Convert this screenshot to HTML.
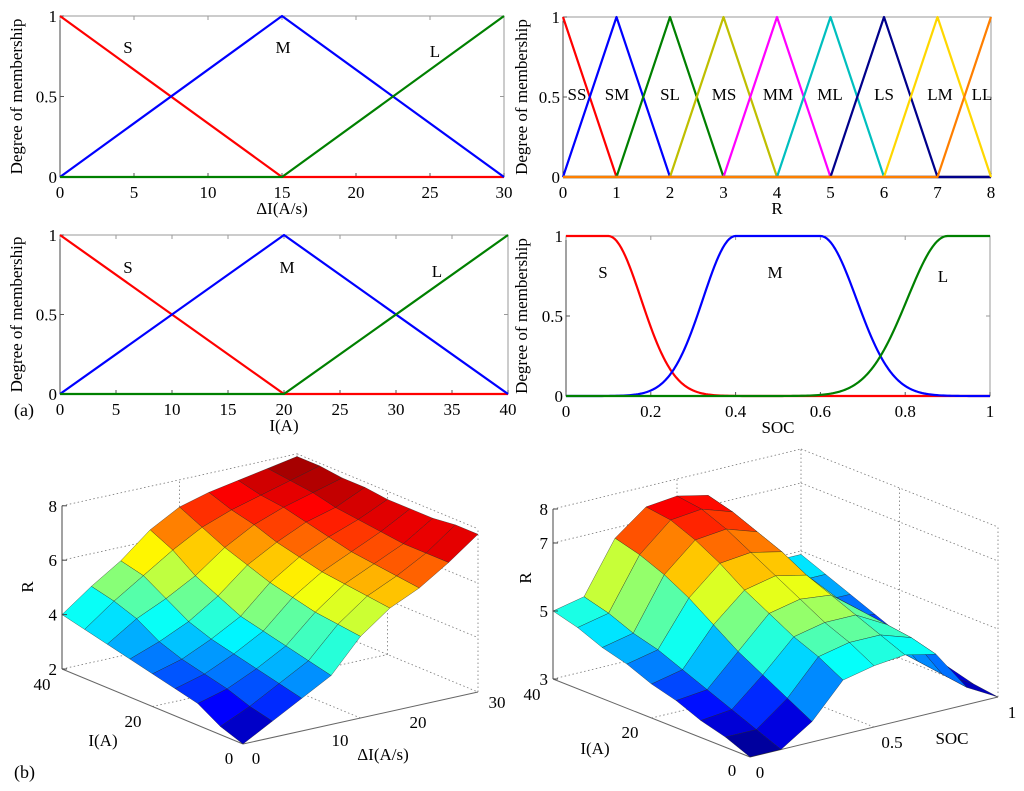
<!DOCTYPE html>
<html><head><meta charset="utf-8">
<style>
html,body{margin:0;padding:0;background:#fff;}
svg{display:block;font-family:"Liberation Serif",serif;}
</style></head>
<body>
<svg id="fig" width="1024" height="791" viewBox="0 0 1024 791" xmlns="http://www.w3.org/2000/svg">
<text x="14" y="416" font-size="18">(a)</text>
<text x="14" y="778" font-size="18">(b)</text>
</svg>
<script>
// ---------- data ----------
const dITicks=[0,5,10,15,20,25,30];
const dICenters=[0,15,30]; const dINames=["S","M","L"];
const rTicks=[0,1,2,3,4,5,6,7,8];
const rCenters=[0,1,2,3,4,5,6,7,8];
const rNames=["SS","SM","SL","MS","MM","ML","LS","LM","LL"];
const iTicks=[0,5,10,15,20,25,30,35,40];
const iCenters=[0,20,40]; const iNames=["S","M","L"];
const socTicks=[0,0.2,0.4,0.6,0.8,1];
// [flat-left, flat-right, sigma-left, sigma-right]
const socS=[0,0.1,0.08,0.077];
const socM=[0.4,0.6,0.077,0.085];
const socL=[0.9,1,0.095,0.08];
const yTicks=[0,0.5,1];
const surf1I=[0,5,10,15,20,25,30,35,40];
const surf1D=[0,3.75,7.5,11.25,15,18.75,22.5,26.25,30];
const surf1R=[
[2.0,2.6,3.2,3.8,5.0,5.8,6.3,7.0,7.8],
[2.3,2.8,3.4,4.0,5.1,5.9,6.4,7.0,7.8],
[2.8,3.1,3.6,4.2,5.2,6.0,6.5,7.0,7.7],
[3.0,3.3,3.8,4.4,5.4,6.1,6.6,7.1,7.7],
[3.2,3.5,4.0,4.6,5.6,6.3,6.8,7.2,7.7],
[3.4,3.8,4.3,5.0,5.9,6.5,7.0,7.3,7.8],
[3.6,4.3,4.8,5.4,6.2,6.8,7.2,7.5,7.8],
[3.8,4.6,5.3,6.0,6.6,7.0,7.3,7.6,7.9],
[4.0,4.8,5.5,6.4,7.0,7.3,7.5,7.7,7.9]];
const surf2I=[0,5,10,15,20,25,30,35,40];
const surf2S=[0,0.125,0.25,0.375,0.5,0.625,0.75,0.875,1];
const surf2R=[
[3.0,3.0,3.6,4.6,4.8,4.9,4.7,3.5,3.0],
[3.3,3.3,4.0,5.0,5.2,5.2,4.9,3.6,3.1],
[3.5,3.6,4.4,5.3,5.5,5.5,5.0,3.7,3.3],
[3.8,3.9,4.8,5.7,5.9,5.8,5.1,3.8,3.5],
[4.0,4.2,5.3,6.1,6.3,6.1,5.2,3.9,3.7],
[4.3,4.5,5.8,6.6,6.7,6.5,5.3,4.1,4.0],
[4.5,4.7,6.2,7.0,7.1,6.8,5.4,4.3,4.3],
[4.8,5.0,6.5,7.3,7.4,7.1,5.6,4.6,4.6],
[5.0,5.2,6.7,7.4,7.5,7.3,5.7,4.9,4.9]];
const z1Ticks=[2,4,6,8]; const z2Ticks=[3,5,7,8];

// ---------- helpers ----------
const svg=document.getElementById('fig');
const NS="http://www.w3.org/2000/svg";
function mk(tag,at,parent){const e=document.createElementNS(NS,tag);for(const k in at)e.setAttribute(k,at[k]);(parent||svg).appendChild(e);return e;}
function txt(x,y,s,size,anchor,parent,extra){const t=mk('text',Object.assign({x:x,y:y,'font-size':size,'text-anchor':anchor||'middle'},extra||{}),parent);t.textContent=s;return t;}

function axes2d(name,x0,x1,y0,y1,xmin,xmax,xt,xlabel,ylabX){
  const g=mk('g',{});
  
  
  const sx=v=>x0+(v-xmin)/(xmax-xmin)*(x1-x0);
  const sy=v=>y0-(v)*(y0-y1);
  const box=mk('rect',{x:x0,y:y1,width:x1-x0,height:y0-y1,fill:'none',stroke:'#9a9a9a','stroke-width':1},g);
  
  
  mk('line',{x1:x0,y1:y1,x2:x0,y2:y0,stroke:'#444'},g);
  mk('line',{x1:x0,y1:y0,x2:x1,y2:y0,stroke:'#444'},g);
  xt.forEach(v=>{const X=sx(v);
    mk('line',{x1:X,y1:y0,x2:X,y2:y0-4,stroke:'#555'},g);
    mk('line',{x1:X,y1:y1,x2:X,y2:y1+4,stroke:'#999'},g);
    const t=txt(X,y0+21,String(v),17,'middle',g);
    
    });
  yTicks.forEach(v=>{const Y=sy(v);
    mk('line',{x1:x0,y1:Y,x2:x0+4,y2:Y,stroke:'#555'},g);
    mk('line',{x1:x1,y1:Y,x2:x1-4,y2:Y,stroke:'#999'},g);
    const t=txt(x0-3,Y+6,String(v),17,'end',g);
    
    });
  const xl=txt((x0+x1)/2,y0+37,xlabel,17,'middle',g);
  
  
  const yl=txt(0,0,'Degree of membership',17,'middle',g,{transform:`translate(${ylabX},${(y0+y1)/2}) rotate(-90)`});
  
  
  return {g,sx,sy};
}
function poly(ax,xs,ys,color,name){
  const p=mk('polyline',{points:xs.map((x,i)=>ax.sx(x)+','+ax.sy(ys[i])).join(' '),fill:'none',stroke:color,'stroke-width':2.2,'stroke-linejoin':'round'},ax.g);
  
  
}
function tri(ax,centers,i,xmin,xmax,color,name){
  const c=centers[i],l=i>0?centers[i-1]:c,r=i<centers.length-1?centers[i+1]:c;
  const xs=[],ys=[];
  if(xmin<l){xs.push(xmin);ys.push(0);}
  xs.push(l);ys.push(i>0?0:1);xs.push(c);ys.push(1);xs.push(r);ys.push(i<centers.length-1?0:1);
  if(r<xmax){xs.push(xmax);ys.push(0);}
  poly(ax,xs,ys,color,name);
}
function lab(ax,x,y,s){const t=txt(x,y,s,17,'middle',ax.g);}

const a1=axes2d('chart-delta-i-membership',60,504,177,16,0,30,dITicks,'\u0394I(A/s)',22);
const c3=['#ff0000','#0000ff','#008000'];
dINames.forEach((n,i)=>tri(a1,dICenters,i,0,30,c3[i],'line-'+n.toLowerCase()));
lab(a1,128,53,'S');lab(a1,283,53,'M');lab(a1,435,57,'L');
const a2=axes2d('chart-r-membership',563,991,177,17,0,8,rTicks,'R',527);
const c9=['#ff0000','#0000ff','#008000','#bfbf00','#ff00ff','#00bfbf','#00008b','#ffd700','#ff7f00'];
rNames.forEach((n,i)=>tri(a2,rCenters,i,0,8,c9[i],'line-'+n.toLowerCase()));
[[577,'SS'],[617,'SM'],[670,'SL'],[724,'MS'],[778,'MM'],[830,'ML'],[884,'LS'],[940,'LM'],[982,'LL']].forEach(p=>lab(a2,p[0],100,p[1]));
const a3=axes2d('chart-i-membership',60,508,394,235,0,40,iTicks,'I(A)',22);
iNames.forEach((n,i)=>tri(a3,iCenters,i,0,40,c3[i],'line-'+n.toLowerCase()));
lab(a3,128,273,'S');lab(a3,287,273,'M');lab(a3,437,277,'L');
const a4=axes2d('chart-soc-membership',566,990,396,236,0,1,socTicks,'SOC',527);
function g2(x,p){if(x<p[0])return Math.exp(-((x-p[0])**2)/(2*p[2]*p[2]));if(x>p[1])return Math.exp(-((x-p[1])**2)/(2*p[3]*p[3]));return 1;}
const xsS=[];for(let k=0;k<=200;k++)xsS.push(k/200);
poly(a4,xsS,xsS.map(x=>g2(x,socS)),'#ff0000','line-s');
poly(a4,xsS,xsS.map(x=>g2(x,socM)),'#0000ff','line-m');
poly(a4,xsS,xsS.map(x=>g2(x,socL)),'#008000','line-l');
lab(a4,603,278,'S');lab(a4,775,278,'M');lab(a4,943,282,'L');

function jet(t){t=Math.max(0,Math.min(1,t));
  const r=Math.max(0,Math.min(1,1.5-Math.abs(4*t-3))),g=Math.max(0,Math.min(1,1.5-Math.abs(4*t-2))),b=Math.max(0,Math.min(1,1.5-Math.abs(4*t-1)));
  return `rgb(${Math.round(r*255)},${Math.round(g*255)},${Math.round(b*255)})`;}
function surface(name,O,PA,PB,amax,bmax,zmin,zmax,zpx,aVals,bVals,Z,zt,labs){
  const g=mk('g',{});
  
  
  const P=(a,b,z)=>[O[0]+a/amax*(PA[0]-O[0])+b/bmax*(PB[0]-O[0]), O[1]+a/amax*(PA[1]-O[1])+b/bmax*(PB[1]-O[1])-(z-zmin)*zpx];
  const dot={stroke:'#777','stroke-width':0.8,'stroke-dasharray':'1.5,2.5',fill:'none'};
  const L=(p,q,st)=>mk('line',Object.assign({x1:p[0],y1:p[1],x2:q[0],y2:q[1]},st),g);
  zt.forEach(z=>{L(P(amax,0,z),P(amax,bmax,z),dot);L(P(amax,bmax,z),P(0,bmax,z),dot);});
  L(P(amax,0,zmin),P(amax,0,zmax),{stroke:'#444','stroke-width':1});
  L(P(amax,bmax,zmin),P(amax,bmax,zmax),dot);L(P(0,bmax,zmin),P(0,bmax,zmax),dot);
  [0.5].forEach(f=>{L(P(amax,bmax*f,zmin),P(amax,bmax*f,zmax),dot);L(P(amax*f,bmax,zmin),P(amax*f,bmax,zmax),dot);
    L(P(amax*f,0,zmin),P(amax*f,bmax,zmin),dot);L(P(0,bmax*f,zmin),P(amax,bmax*f,zmin),dot);});
  L(O,P(amax,0,zmin),{stroke:'#666','stroke-width':1});L(O,P(0,bmax,zmin),{stroke:'#666','stroke-width':1});
  const cells=[];
  for(let i=0;i<aVals.length-1;i++)for(let j=0;j<bVals.length-1;j++)cells.push([i,j]);
  cells.sort((u,v)=>(v[0]/aVals.length+v[1]/bVals.length)-(u[0]/aVals.length+u[1]/bVals.length));
  cells.forEach(([i,j])=>{
    const pts=[[i,j],[i+1,j],[i+1,j+1],[i,j+1]];
    const zavg=pts.reduce((s,p)=>s+Z[p[0]][p[1]],0)/4;
    const q=mk('polygon',{points:pts.map(p=>P(aVals[p[0]],bVals[p[1]],Z[p[0]][p[1]]).join(',')).join(' '),fill:jet((zavg-zmin)/(zmax-zmin)),stroke:'#222','stroke-width':0.5,'stroke-opacity':0.7,'stroke-linejoin':'round'},g);
    
    
  });
  zt.forEach(z=>{const p=P(amax,0,z);L(p,[p[0]+5,p[1]],{stroke:'#444'});
    const t=txt(p[0]-5,p[1]+6,String(z),17,'end',g);
    
    });
  labs.forEach(l=>{const t=txt(l[0],l[1],l[2],17,'middle',g,l[3]?{transform:`rotate(-90 ${l[0]} ${l[1]})`}:{});
    
    });
}
surface('surface-r-vs-i-delta-i',[243,744],[62,669],[478,692],40,30,2,8,27.2,surf1I,surf1D,surf1R,z1Ticks,
 [[42,690,'40',0,'i-tick-label'],[133,727,'20',0,'i-tick-label'],[229,764,'0',0,'i-tick-label'],[103,746,'I(A)',0,'i-axis-title'],
  [256,764,'0',0,'di-tick-label'],[340,746,'10',0,'di-tick-label'],[418,728,'20',0,'di-tick-label'],[497,708,'30',0,'di-tick-label'],[383,760,'\u0394I(A/s)',0,'di-axis-title'],[33,587,'R',1,'z-axis-title']]);
surface('surface-r-vs-i-soc',[750,757],[553,679],[998,697],40,1,3,8,34,surf2I,surf2S,surf2R,z2Ticks,
 [[532,700,'40',0,'i-tick-label'],[630,738,'20',0,'i-tick-label'],[732,776,'0',0,'i-tick-label'],[595,754,'I(A)',0,'i-axis-title'],
  [760,778,'0',0,'soc-tick-label'],[892,748,'0.5',0,'soc-tick-label'],[1012,718,'1',0,'soc-tick-label'],[952,744,'SOC',0,'soc-axis-title'],[531,578,'R',1,'z-axis-title']]);
</script>
</body></html>
